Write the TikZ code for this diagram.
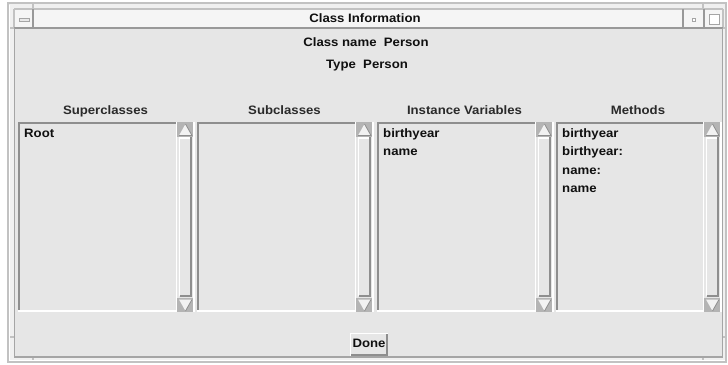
\documentclass[tikz,border=0pt]{standalone}
\usepackage{fontspec}
\newfontfamily\uifont{Liberation Sans}[FakeStretch=1.08]
\definecolor{bodybg}{HTML}{E6E6E6}
\definecolor{titlebg}{HTML}{F5F5F5}
\definecolor{framebg}{HTML}{F0F0F0}
\definecolor{frameln}{HTML}{C2C2C2}
\definecolor{shade}{HTML}{8E8E8E}
\definecolor{arrowbg}{HTML}{B4B4B4}
\definecolor{ink}{HTML}{101010}
\definecolor{headink}{HTML}{2A2A2A}
\tikzset{
  uitext/.style={font=\uifont\bfseries\fontsize{12.2}{14}\selectfont, text=ink, inner sep=0pt, anchor=base},
  headtext/.style={uitext, text=headink},
  listtext/.style={uitext, anchor=base west},
  darkedge/.style={draw=shade, line width=2pt},
  liteedge/.style={draw=white, line width=1.6pt},
  frameedge/.style={draw=frameln, line width=1.4pt},
}
\begin{document}
\begin{tikzpicture}[x=1pt,y=-1pt]
\useasboundingbox (0,0) rectangle (728,364);
\fill[white] (0,0) rectangle (728,364);

% window frame
\fill[framebg] (8,3) rectangle (726,362);
\draw[frameedge] (8,3) rectangle (726,362);
% corner marks of the resize frame
\draw[frameedge] (33,3) -- (33,9) (703,3) -- (703,9);
\draw[frameedge] (33,357) -- (33,362) (703,357) -- (703,362);
\draw[frameedge] (8,28) -- (14,28) (8,337) -- (14,337);
\draw[frameedge] (723,28) -- (726,28) (723,337) -- (726,337);

% title bar
\fill[titlebg] (14,9) rectangle (723,28);
\draw[draw=frameln, line width=1.2pt] (14,9) -- (723,9);
\draw[draw=frameln, line width=1.2pt] (14,9) -- (14,28) (723,9) -- (723,28);
\draw[draw=shade!90, line width=1.2pt] (33,9) -- (33,28) (683,9) -- (683,28) (704,9) -- (704,28);
% title bar buttons
\draw[draw=shade!80, fill=bodybg!90, line width=0.8pt] (19.5,18) rectangle (29.5,21);
\draw[draw=shade!80, fill=white, line width=0.7pt] (692.5,18) rectangle (695.5,21);
\draw[draw=shade!80, fill=white, line width=1pt] (709,14.5) rectangle (719,24.5);
\node[uitext] (title) at (365,23) {Class Information};

% window body
\fill[bodybg] (14,28) rectangle (723,357);
\draw[draw=shade!90, line width=1.6pt] (14,28) -- (723,28);
\draw[draw=shade!80, line width=1.4pt] (14.7,28) -- (14.7,357) -- (722.5,357) -- (722.5,28);
\draw[draw=white, line width=1pt] (9.5,4.5) -- (9.5,360.5) -- (724.5,360.5);

\node[uitext] (classname) at (366,46) {Class name\ \ Person};
\node[uitext] (typename) at (367,68) {Type\ \ Person};

% list panels with scrollbars: left edge / width / heading
\foreach \x/\w/\lbl in {18/175/Superclasses, 197/175/Subclasses, 377/175/Instance Variables, 556/164/Methods}{
  \pgfmathsetmacro{\e}{\x+\w}
  \pgfmathsetmacro{\s}{\e-16.5}
  \pgfmathsetmacro{\c}{\x+\w/2}
  \node[headtext] (head-\x) at (\c,114) {\lbl};
  % sunken list area
  \draw[darkedge] (\x+1,311) -- (\x+1,123) -- (\s,123);
  \draw[liteedge] (\x,311) -- (\s,311) -- (\s,122);
  % scrollbar arrows
  \fill[arrowbg] (\s+0.8,122) rectangle (\s+17,137);
  \fill[white!95!black] (\s+9,124) -- (\s+2.5,135.5) -- (\s+15.5,135.5) -- cycle;
  \draw[draw=shade, line width=0.8pt] (\s+2.5,135.5) -- (\s+15.5,135.5) -- (\s+9,124);
  \fill[arrowbg] (\s+0.8,297.5) rectangle (\s+17,312);
  \fill[white!95!black] (\s+2.5,299.5) -- (\s+15.5,299.5) -- (\s+9,311) -- cycle;
  \draw[draw=shade, line width=0.8pt] (\s+15.5,299.5) -- (\s+9,311);
  % slider
  \draw[liteedge] (\s+3,296) -- (\s+3,138) -- (\s+14,138);
  \draw[darkedge] (\s+3,296) -- (\s+14.5,296) -- (\s+14.5,137);
  \draw[liteedge] (\e+1,122) -- (\e+1,312);
}

% list entries
\node[listtext] (sup1) at (24,137) {Root};
\node[listtext] (ivar1) at (383,137) {birthyear};
\node[listtext] (ivar2) at (383,155.5) {name};
\node[listtext] (meth1) at (562,137) {birthyear};
\node[listtext] (meth2) at (562,155.5) {birthyear:};
\node[listtext] (meth3) at (562,174) {name:};
\node[listtext] (meth4) at (562,192.5) {name};

% Done button
\fill[bodybg] (350,333) rectangle (388,356);
\draw[liteedge] (350.5,356) -- (350.5,333.5) -- (388,333.5);
\draw[darkedge] (351,355) -- (387,355) -- (387,334);
\node[uitext] (done) at (369,347.5) {Done};
\end{tikzpicture}
\end{document}
